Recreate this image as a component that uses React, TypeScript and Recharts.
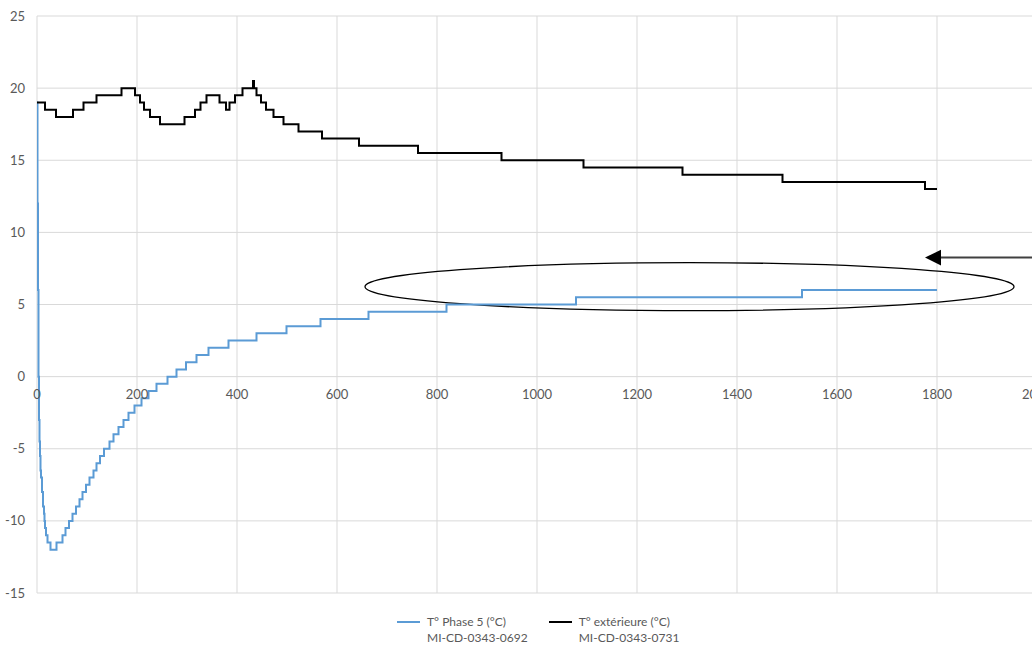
import React from "react";
import {
  LineChart,
  Line,
  XAxis,
  YAxis,
  CartesianGrid,
  Legend,
  ReferenceArea,
} from "recharts";

// ---- Data (change points; lines drawn as steps) ----
const phaseTimes = [0, 1, 2, 3, 4, 5, 6, 7, 8, 10, 12, 14, 15, 16, 18, 21, 27, 39, 51, 57, 64, 71, 78, 85, 91, 98, 105, 113, 119, 126, 134, 145, 153, 163, 173, 183, 195, 209, 223, 239, 261, 279, 298, 319, 343, 383, 439, 499, 567, 663, 819, 1078, 1530, 1800];
const phaseValues = [19, 12, 6, 0, -3, -4.5, -5.5, -6.5, -7, -8, -9, -9.5, -10, -10.5, -11, -11.5, -12, -11.5, -11, -10.5, -10, -9.5, -9, -8.5, -8, -7.5, -7, -6.5, -6, -5.5, -5, -4.5, -4, -3.5, -3, -2.5, -2, -1.5, -1, -0.5, 0, 0.5, 1, 1.5, 2, 2.5, 3, 3.5, 4, 4.5, 5, 5.5, 6, 6];

const extTimes = [0, 16, 38, 72, 93, 119, 169, 196, 206, 214, 226, 246, 295, 316, 327, 339, 365, 378, 385, 396, 411, 432, 434, 439, 448, 458, 473, 493, 523, 570, 644, 762, 929, 1093, 1291, 1491, 1776, 1800];
const extValues = [19, 18.5, 18, 18.5, 19, 19.5, 20, 19.5, 19, 18.5, 18, 17.5, 18, 18.5, 19, 19.5, 19, 18.5, 19, 19.5, 20, 20.5, 20, 19.5, 19, 18.5, 18, 17.5, 17, 16.5, 16, 15.5, 15, 14.5, 14, 13.5, 13, 13];

const xTicks = [0, 200, 400, 600, 800, 1000, 1200, 1400, 1600, 1800, 2000];
const yTicks = [-15, -10, -5, 0, 5, 10, 15, 20, 25];
const xDomain = [0, 2000];
const yDomain = [-15, 25];

const seriesNames = ["T° Phase 5 (°C)", "T° extérieure (°C)"];
const seriesSubNames = ["MI-CD-0343-0692", "MI-CD-0343-0731"];

// annotation (in data units)
const ellipseX = [656, 1954];
const ellipseY = [4.57, 7.9];
const arrowX = [1776, 2000];
const arrowY = [7.7, 8.8];

const phaseData = phaseTimes.map((t, i) => ({ t, v: phaseValues[i] }));
const extData = extTimes.map((t, i) => ({ t, v: extValues[i] }));

// ---- Styles ----
const W = 1060;
const H = 646;
const MARGIN = { top: 16, right: 23, left: 0, bottom: 0 };
const XAXIS_H = 20;
const LEGEND_H = 33;
const PLOT_H = H - MARGIN.top - MARGIN.bottom - LEGEND_H - XAXIS_H;
const FONT = "Lato, 'Liberation Sans', sans-serif";
const TEXT = "#595959";
const GRID = "#d9d9d9";
const BLUE = "#5b9bd5";
const BLACK = "#000000";

const zeroOffset = (PLOT_H * (0 - yDomain[0])) / (yDomain[1] - yDomain[0]);

const XTick = (props: any) => {
  const { x, payload } = props;
  const axisTop = MARGIN.top + PLOT_H;
  return (
    <text
      x={x}
      y={axisTop - zeroOffset + 17}
      textAnchor="middle"
      dominantBaseline="central"
      fill={TEXT}
      fontSize={13}
      fontFamily={FONT}
    >
      {payload.value}
    </text>
  );
};

const EllipseShape = (props: any) => {
  const { x, y, width, height } = props;
  return (
    <ellipse
      cx={x + width / 2}
      cy={y + height / 2}
      rx={width / 2}
      ry={height / 2}
      fill="none"
      stroke="#000"
      strokeWidth={1.3}
    />
  );
};

const ArrowShape = (props: any) => {
  const { x, y, width, height } = props;
  const cy = y + height / 2;
  const head = 16;
  return (
    <g>
      <line x1={x + head - 1} y1={cy} x2={x + width} y2={cy} stroke="#404040" strokeWidth={2} />
      <polygon points={`${x},${cy} ${x + head},${y} ${x + head},${y + height}`} fill="#000" />
    </g>
  );
};

const LegendContent = () => {
  const colors = [BLUE, BLACK];
  return (
    <div
      style={{
        height: LEGEND_H,
        boxSizing: "border-box",
        paddingTop: 1,
        paddingLeft: 397,
        display: "flex",
        fontFamily: FONT,
        fontSize: 12,
        color: TEXT,
        lineHeight: "16px",
      }}
    >
      {seriesNames.map((n, i) => (
        <div key={n} style={{ display: "flex", marginRight: i === 0 ? 21 : 0 }}>
          <div
            style={{
              width: 23,
              height: 2,
              background: colors[i],
              marginTop: 7,
              marginRight: 7,
            }}
          />
          <div>
            <div>{n}</div>
            <div>{seriesSubNames[i]}</div>
          </div>
        </div>
      ))}
    </div>
  );
};

export default function App() {
  return (
    <div
      style={{
        position: "fixed",
        left: 0,
        top: 0,
        width: 1032,
        height: 646,
        overflow: "hidden",
        background: "#fff",
      }}
    >
      <LineChart width={W} height={H} margin={MARGIN}>
        <CartesianGrid stroke={GRID} strokeWidth={1} />
        <XAxis
          type="number"
          dataKey="t"
          domain={xDomain}
          ticks={xTicks}
          axisLine={false}
          tickLine={false}
          tick={<XTick />}
          height={XAXIS_H}
          interval={0}
          allowDataOverflow
        />
        <YAxis
          type="number"
          domain={yDomain}
          ticks={yTicks}
          width={37}
          axisLine={false}
          tickLine={false}
          tickSize={0}
          tickMargin={12}
          tick={{ fill: TEXT, fontSize: 13, fontFamily: FONT }}
          allowDataOverflow
        />
        <Legend
          verticalAlign="bottom"
          content={<LegendContent />}
          wrapperStyle={{ left: 0, bottom: 0, width: W, height: LEGEND_H }}
        />
        <Line
          data={phaseData}
          dataKey="v"
          name={seriesNames[0]}
          type="stepAfter"
          stroke={BLUE}
          strokeWidth={2}
          dot={false}
          isAnimationActive={false}
        />
        <Line
          data={extData}
          dataKey="v"
          name={seriesNames[1]}
          type="stepAfter"
          stroke={BLACK}
          strokeWidth={2}
          dot={false}
          isAnimationActive={false}
        />
        <ReferenceArea
          x1={ellipseX[0]}
          x2={ellipseX[1]}
          y1={ellipseY[0]}
          y2={ellipseY[1]}
          shape={<EllipseShape />}
          ifOverflow="visible"
        />
        <ReferenceArea
          x1={arrowX[0]}
          x2={arrowX[1]}
          y1={arrowY[0]}
          y2={arrowY[1]}
          shape={<ArrowShape />}
          ifOverflow="visible"
        />
      </LineChart>
    </div>
  );
}
